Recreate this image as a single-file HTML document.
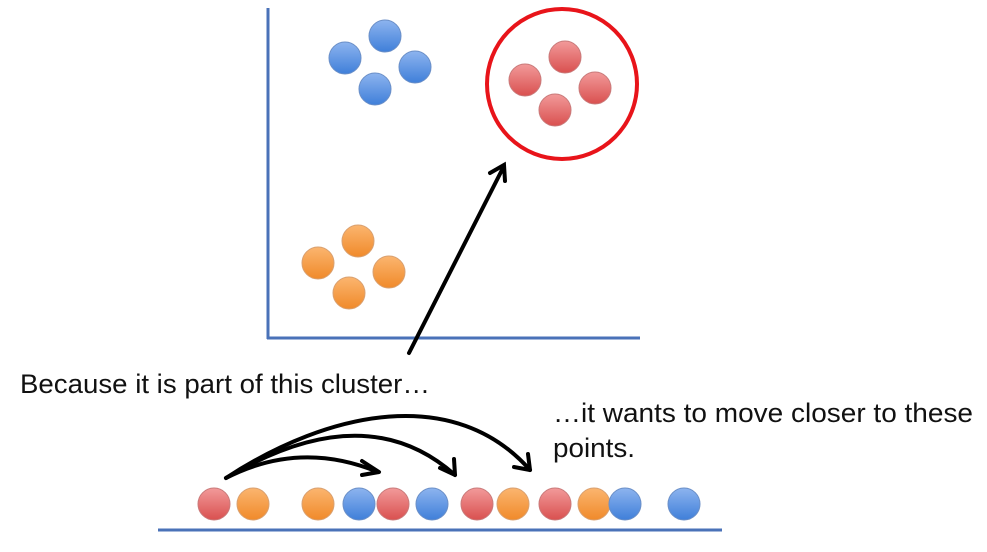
<!DOCTYPE html>
<html><head><style>html,body{margin:0;padding:0;background:#fff;}svg{display:block}</style></head>
<body>
<svg width="987" height="552" viewBox="0 0 987 552" xmlns="http://www.w3.org/2000/svg">
<defs>
<linearGradient id="b" x1="0" y1="0" x2="0" y2="1"><stop offset="0" stop-color="#8db4ef"/><stop offset="1" stop-color="#3f7fd9"/></linearGradient>
<linearGradient id="r" x1="0" y1="0" x2="0" y2="1"><stop offset="0" stop-color="#f29a9a"/><stop offset="1" stop-color="#d9504f"/></linearGradient>
<linearGradient id="o" x1="0" y1="0" x2="0" y2="1"><stop offset="0" stop-color="#fbb56f"/><stop offset="1" stop-color="#f08a2a"/></linearGradient>
</defs>
<g stroke="#4a72b8" stroke-width="3" fill="none">
<line x1="268" y1="8" x2="268" y2="339"/>
<line x1="267" y1="338" x2="640" y2="338"/>
<line x1="158" y1="530" x2="722" y2="530"/>
</g>
<g stroke="#6b8fc7" stroke-width="1" fill="url(#b)">
<circle cx="345" cy="58" r="16"/><circle cx="385" cy="36" r="16"/><circle cx="415" cy="67" r="16"/><circle cx="375" cy="89" r="16"/>
</g>
<g stroke="#c97a7a" stroke-width="1" fill="url(#r)">
<circle cx="525" cy="80" r="16"/><circle cx="565" cy="57" r="16"/><circle cx="595" cy="88" r="16"/><circle cx="555" cy="110" r="16"/>
</g>
<g stroke="#d9a070" stroke-width="1" fill="url(#o)">
<circle cx="318" cy="263" r="16"/><circle cx="358" cy="241" r="16"/><circle cx="389" cy="272" r="16"/><circle cx="349" cy="293" r="16"/>
</g>
<circle cx="562" cy="84" r="75" fill="none" stroke="#e8141a" stroke-width="4"/>
<g stroke="#000" stroke-width="4" fill="none" stroke-linecap="round">
<line x1="409" y1="353" x2="503" y2="168"/>
<polyline points="490,173 504,165 505,181"/>
</g>
<g stroke="#000" stroke-width="4" fill="none" stroke-linecap="round" stroke-linejoin="round">
<path d="M226,478 Q300,440 378,472"/>
<polyline points="362,461 379,472 362,475"/>
<path d="M226,478 Q365,395 455,475"/>
<polyline points="440,468 455,475 454,459"/>
<path d="M226,478 C330,410 455,385 530,470"/>
<polyline points="514,467 530,470 528,454"/>
</g>
<g stroke-width="1">
<circle cx="214" cy="504" r="16" fill="url(#r)" stroke="#c97a7a"/>
<circle cx="253" cy="504" r="16" fill="url(#o)" stroke="#d9a070"/>
<circle cx="318" cy="504" r="16" fill="url(#o)" stroke="#d9a070"/>
<circle cx="359" cy="504" r="16" fill="url(#b)" stroke="#6b8fc7"/>
<circle cx="393" cy="504" r="16" fill="url(#r)" stroke="#c97a7a"/>
<circle cx="432" cy="504" r="16" fill="url(#b)" stroke="#6b8fc7"/>
<circle cx="477" cy="504" r="16" fill="url(#r)" stroke="#c97a7a"/>
<circle cx="513" cy="504" r="16" fill="url(#o)" stroke="#d9a070"/>
<circle cx="555" cy="504" r="16" fill="url(#r)" stroke="#c97a7a"/>
<circle cx="594" cy="504" r="16" fill="url(#o)" stroke="#d9a070"/>
<circle cx="625" cy="504" r="16" fill="url(#b)" stroke="#6b8fc7"/>
<circle cx="684" cy="504" r="16" fill="url(#b)" stroke="#6b8fc7"/>
</g>
<g font-family="Liberation Sans, sans-serif" font-size="27" fill="#111">
<text x="20" y="393" textLength="410" lengthAdjust="spacingAndGlyphs">Because it is part of this cluster…</text>
<text x="553" y="422" textLength="420" lengthAdjust="spacingAndGlyphs">…it wants to move closer to these</text>
<text x="553" y="457" textLength="82" lengthAdjust="spacingAndGlyphs">points.</text>
</g>
</svg>
</body></html>
